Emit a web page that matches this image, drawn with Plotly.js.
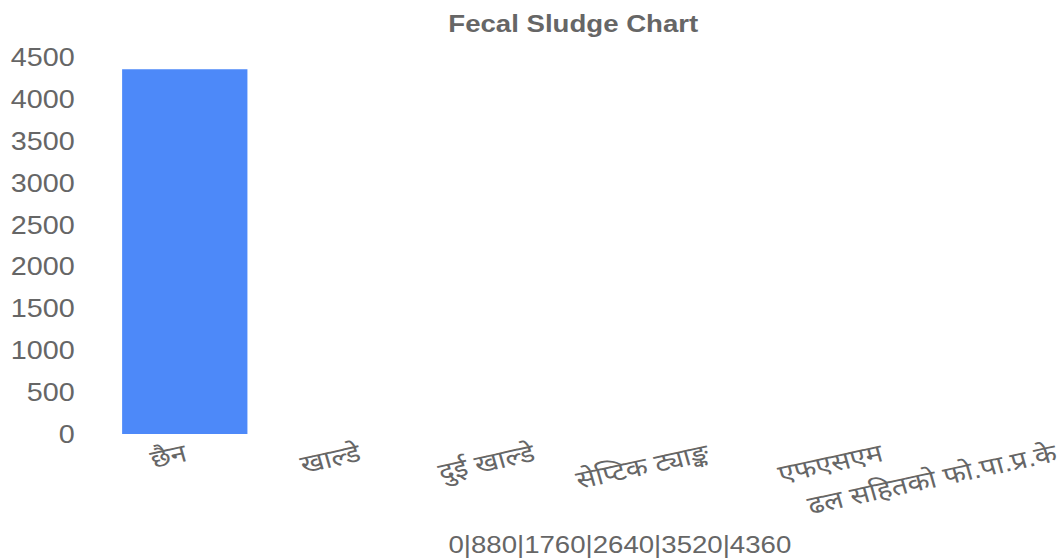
<!DOCTYPE html>
<html>
<head>
<meta charset="utf-8">
<script src="https://cdn.plot.ly/plotly-3.0.1.min.js"></script>
<style>
  html, body { margin: 0; padding: 0; overflow: hidden; background: #fff; }
  #wrap { width: 1059px; height: 558px; overflow: hidden; }
  #chart { width: 997px; height: 558px; transform: scaleX(1.15); transform-origin: 0 0; }
</style>
</head>
<body>
<div id="wrap"><div id="chart"></div></div>
<script>
const categories = ['छैन', 'खाल्डे', 'दुई खाल्डे', 'सेप्टिक ट्याङ्क', 'एफएसएम', 'ढल सहितको फो.पा.प्र.के'];
const values = [4360, 0, 0, 0, 0, 0];
const yTickValues = [0, 500, 1000, 1500, 2000, 2500, 3000, 3500, 4000, 4500];
const chartTitle = 'Fecal Sludge Chart';
const xAxisTitle = '0|880|1760|2640|3520|4360';

const textColor = '#666666';
const fontFamily = 'Arial, "Liberation Sans", "Noto Sans Devanagari", "Noto Sans", sans-serif';

const data = [{
  type: 'bar',
  x: categories,
  y: values,
  marker: { color: '#4d89f9' },
  hoverinfo: 'none'
}];

const layout = {
  width: 997,
  height: 558,
  margin: { l: 85, r: 4, t: 50, b: 124, pad: 0 },
  paper_bgcolor: '#ffffff',
  plot_bgcolor: '#ffffff',
  bargap: 0.28,
  showlegend: false,
  font: { family: fontFamily, color: textColor, size: 24 },
  title: {
    text: '<b>' + chartTitle + '</b>',
    font: { family: fontFamily, size: 24, color: textColor },
    x: 0.5,
    xanchor: 'center',
    xref: 'container',
    yref: 'container',
    y: 0.958,
    yanchor: 'middle'
  },
  xaxis: {
    type: 'category',
    automargin: false,
    showgrid: false,
    zeroline: false,
    showline: false,
    ticks: '',
    tickangle: -14,
    ticklabelstandoff: 1,
    tickfont: { family: fontFamily, size: 25, color: textColor },
    title: { text: xAxisTitle, standoff: 30, font: { family: fontFamily, size: 24, color: textColor } }
  },
  yaxis: {
    automargin: false,
    showgrid: false,
    zeroline: false,
    showline: false,
    ticks: '',
    tickmode: 'array',
    tickvals: yTickValues,
    ticktext: yTickValues.map(String),
    ticklabelstandoff: 19,
    tickfont: { family: fontFamily, size: 25, color: textColor }
  }
};

Plotly.newPlot('chart', data, layout, { displayModeBar: false, staticPlot: true });
</script>
</body>
</html>
